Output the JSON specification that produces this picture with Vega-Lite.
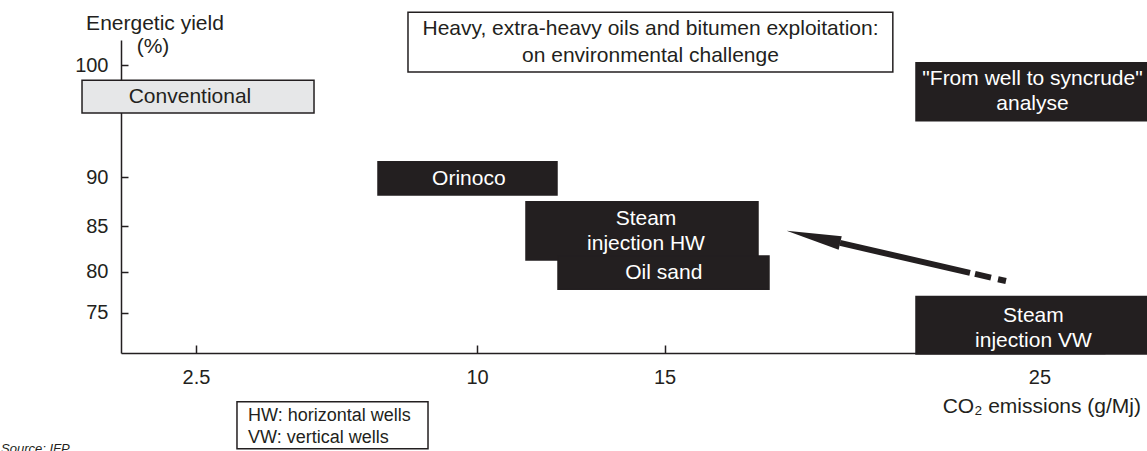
{
  "$schema": "https://vega.github.io/schema/vega-lite/v6.json",
  "width": 984,
  "height": 313,
  "autosize": {"type": "none"},
  "padding": {"left": 121, "top": 40, "right": 42, "bottom": 98},
  "background": "white",
  "config": {"view": {"stroke": null}},
  "datasets": {
    "boxes": [
      {"name": "title", "x": 8.156, "x2": 21.09, "y": 104.25, "y2": 99.42, "kind": "outline"},
      {"name": "legend", "x": 3.594, "x2": 8.69, "y": 62.04, "y2": 53.15, "kind": "outline"},
      {"name": "Conventional", "x": -0.54, "x2": 5.649, "y": 98.74, "y2": 95.91, "kind": "light"},
      {"name": "Orinoco", "x": 7.356, "x2": 12.131, "y": 91.46, "y2": 88.23, "kind": "dark"},
      {"name": "Steam injection HW", "x": 11.304, "x2": 17.493, "y": 87.56, "y2": 81.34, "kind": "dark"},
      {"name": "Oil sand", "x": 12.158, "x2": 17.786, "y": 81.79, "y2": 77.93, "kind": "dark"},
      {"name": "From well to syncrude", "x": 21.708, "x2": 27.9, "y": 100.19, "y2": 95.22, "kind": "dark"},
      {"name": "Steam injection VW", "x": 21.708, "x2": 27.9, "y": 77.04, "y2": 69.45, "kind": "dark"}
    ],
    "labels": [
      {"group": "inbox", "text": "Orinoco", "x": 9.78, "y": 89.85},
      {"group": "inbox", "text": "Steam\ninjection HW", "x": 14.505, "y": 85.78},
      {"group": "inbox", "text": "Oil sand", "x": 14.98, "y": 79.86},
      {"group": "inbox", "text": "\"From well to syncrude\"\nanalyse", "x": 24.816, "y": 98.83},
      {"group": "inbox", "text": "Steam\ninjection VW", "x": 24.84, "y": 74.62},
      {"group": "plain", "text": "Conventional", "x": 2.34, "y": 97.33},
      {"group": "plain", "text": "Heavy, extra-heavy oils and bitumen exploitation:\non environmental challenge", "x": 14.625, "y": 102.91},
      {"group": "plain", "text": "Energetic yield", "x": 1.407, "y": 103.35},
      {"group": "plain", "text": "(%)", "x": 1.354, "y": 101.47},
      {"group": "axistitle", "text": "CO₂ emissions (g/Mj)", "x": 27.71, "y": 61.18},
      {"group": "legend", "text": "HW: horizontal wells\nVW: vertical wells", "x": 3.888, "y": 59.59},
      {"group": "source", "text": "Source: IFP", "x": -2.701, "y": 52.28}
    ],
    "arrow": [
      {"part": "shaft", "x": 19.68, "y": 83.23, "x2": 23.149, "y2": 79.87},
      {"part": "dash1", "x": 23.282, "y": 79.74, "x2": 23.709, "y2": 79.31},
      {"part": "dash2", "x": 23.896, "y": 79.12, "x2": 24.109, "y2": 78.91}
    ],
    "head": [
      {"part": "head", "x": 18.971, "y": 83.89}
    ]
  },
  "layer": [
    {
      "data": {"name": "boxes"},
      "mark": {"type": "rect", "stroke": "#231f20", "strokeWidth": 1.5},
      "encoding": {
        "x": {
          "field": "x", "type": "quantitative", "title": null,
          "scale": {"domain": [0.5, 26.75], "nice": false, "zero": false},
          "axis": {
            "values": [2.5, 10, 15, 25],
            "labelExpr": "datum.value + ''",
            "grid": false,
            "domainColor": "#231f20", "domainWidth": 1.5,
            "tickColor": "#231f20", "tickWidth": 1.5, "tickSize": -8,
            "labelPadding": 22,
            "labelFont": "Liberation Sans", "labelFontSize": 20, "labelColor": "#231f20",
            "labelFlush": false, "labelOverlap": false
          }
        },
        "x2": {"field": "x2"},
        "y": {
          "field": "y", "type": "quantitative", "title": null,
          "scale": {"type": "pow", "exponent": 2.5, "domain": [69.6, 102.05], "nice": false, "zero": false},
          "axis": {
            "values": [75, 80, 85, 90, 100],
            "labelExpr": "datum.value + ''",
            "grid": false,
            "domainColor": "#231f20", "domainWidth": 1.5,
            "tickColor": "#231f20", "tickWidth": 1.5, "tickSize": -7,
            "labelPadding": 20,
            "labelFont": "Liberation Sans", "labelFontSize": 20, "labelColor": "#231f20",
            "labelFlush": false, "labelOverlap": false
          }
        },
        "y2": {"field": "y2"},
        "color": {
          "field": "kind", "type": "nominal",
          "scale": {"domain": ["dark", "light", "outline"], "range": ["#231f20", "#e6e7e8", "#ffffff"]},
          "legend": null
        }
      }
    },
    {
      "data": {"name": "arrow"},
      "mark": {"type": "rule", "color": "#231f20", "strokeWidth": 6, "strokeCap": "butt"},
      "encoding": {
        "x": {"field": "x", "type": "quantitative", "title": null},
        "y": {"field": "y", "type": "quantitative", "title": null},
        "x2": {"field": "x2"},
        "y2": {"field": "y2"}
      }
    },
    {
      "data": {"name": "head"},
      "mark": {"type": "point", "shape": "M0,-1L0.25,1L-0.25,1Z", "size": 3025, "angle": 283, "filled": true, "color": "#231f20", "opacity": 1, "strokeWidth": 0},
      "encoding": {
        "x": {"field": "x", "type": "quantitative", "title": null},
        "y": {"field": "y", "type": "quantitative", "title": null}
      }
    },
    {
      "data": {"name": "labels"},
      "transform": [{"filter": "datum.group == 'inbox'"}],
      "mark": {"type": "text", "font": "Liberation Sans", "fontSize": 21, "color": "#ffffff", "align": "center", "baseline": "middle", "lineBreak": "\n", "lineHeight": 25},
      "encoding": {
        "x": {"field": "x", "type": "quantitative", "title": null},
        "y": {"field": "y", "type": "quantitative", "title": null},
        "text": {"field": "text", "type": "nominal"}
      }
    },
    {
      "data": {"name": "labels"},
      "transform": [{"filter": "datum.group == 'plain'"}],
      "mark": {"type": "text", "font": "Liberation Sans", "fontSize": 21, "color": "#231f20", "align": "center", "baseline": "middle", "lineBreak": "\n", "lineHeight": 27},
      "encoding": {
        "x": {"field": "x", "type": "quantitative", "title": null},
        "y": {"field": "y", "type": "quantitative", "title": null},
        "text": {"field": "text", "type": "nominal"}
      }
    },
    {
      "data": {"name": "labels"},
      "transform": [{"filter": "datum.group == 'axistitle'"}],
      "mark": {"type": "text", "font": "Liberation Sans", "fontSize": 21, "color": "#231f20", "align": "right", "baseline": "middle"},
      "encoding": {
        "x": {"field": "x", "type": "quantitative", "title": null},
        "y": {"field": "y", "type": "quantitative", "title": null},
        "text": {"field": "text", "type": "nominal"}
      }
    },
    {
      "data": {"name": "labels"},
      "transform": [{"filter": "datum.group == 'legend'"}],
      "mark": {"type": "text", "font": "Liberation Sans", "fontSize": 18, "color": "#231f20", "align": "left", "baseline": "middle", "lineBreak": "\n", "lineHeight": 22},
      "encoding": {
        "x": {"field": "x", "type": "quantitative", "title": null},
        "y": {"field": "y", "type": "quantitative", "title": null},
        "text": {"field": "text", "type": "nominal"}
      }
    },
    {
      "data": {"name": "labels"},
      "transform": [{"filter": "datum.group == 'source'"}],
      "mark": {"type": "text", "font": "Liberation Sans", "fontSize": 13, "fontStyle": "italic", "color": "#231f20", "align": "left", "baseline": "alphabetic"},
      "encoding": {
        "x": {"field": "x", "type": "quantitative", "title": null},
        "y": {"field": "y", "type": "quantitative", "title": null},
        "text": {"field": "text", "type": "nominal"}
      }
    }
  ]
}
